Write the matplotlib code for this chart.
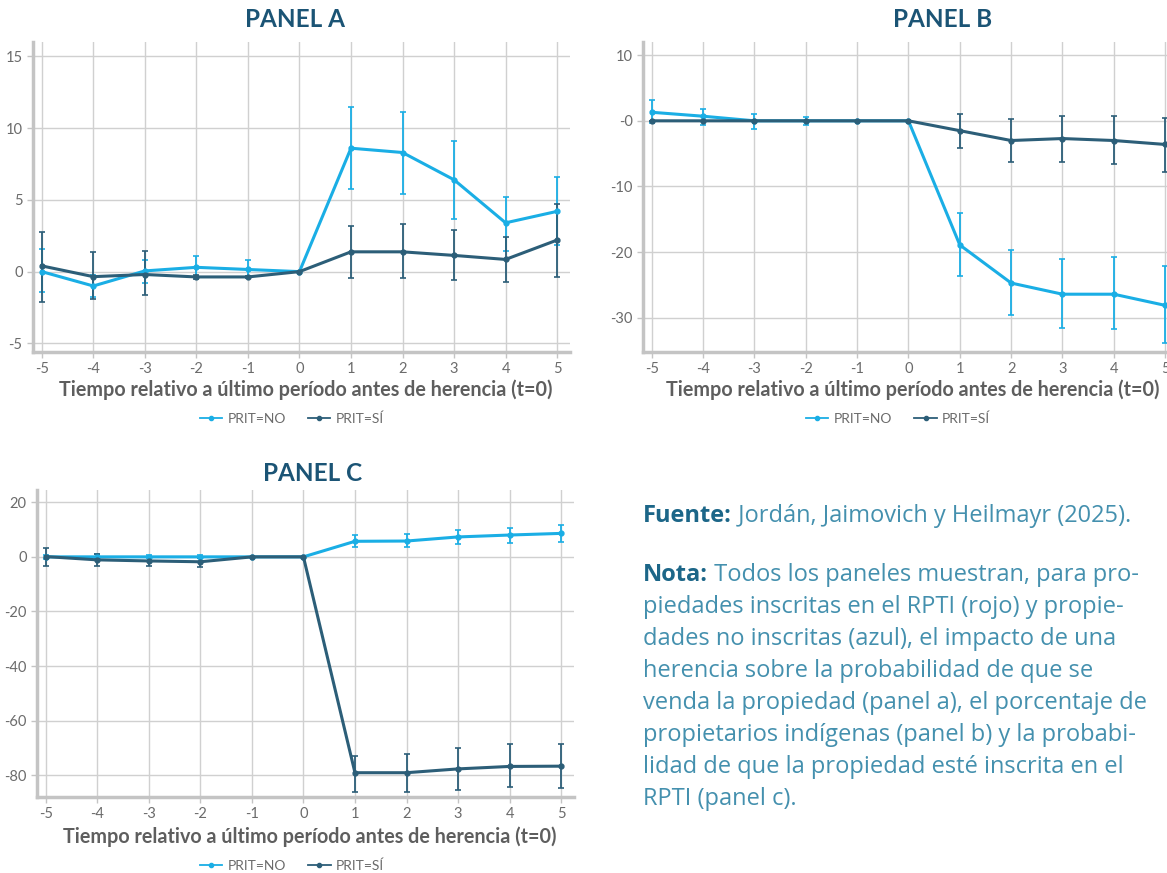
import matplotlib
matplotlib.use('Agg')
import matplotlib.pyplot as plt
from matplotlib.lines import Line2D

periods = [-5, -4, -3, -2, -1, 0, 1, 2, 3, 4, 5]

# Panel A: probabilidad de venta
a_no = [0.0, -1.0, 0.05, 0.3, 0.15, 0.0, 8.6, 8.3, 6.4, 3.4, 4.2]
a_no_lo = [-1.4, -1.8, -0.8, -0.4, -0.4, 0.0, 5.75, 5.4, 3.7, 1.45, 1.85]
a_no_hi = [1.6, -0.2, 0.8, 1.1, 0.8, 0.0, 11.45, 11.15, 9.1, 5.2, 6.6]
a_si = [0.4, -0.35, -0.2, -0.37, -0.37, 0.0, 1.38, 1.38, 1.13, 0.85, 2.2]
a_si_lo = [-2.1, -1.9, -1.65, -0.5, -0.45, 0.0, -0.45, -0.45, -0.55, -0.7, -0.35]
a_si_hi = [2.75, 1.35, 1.45, -0.25, -0.3, 0.0, 3.2, 3.3, 2.9, 2.4, 4.7]

# Panel B: porcentaje de propietarios indígenas
b_no = [1.3, 0.7, 0.0, 0.0, 0.0, 0.0, -18.9, -24.7, -26.4, -26.4, -28.1]
b_no_lo = [-0.4, -0.65, -1.2, -0.7, 0.0, 0.0, -23.6, -29.6, -31.5, -31.7, -33.8]
b_no_hi = [3.2, 1.75, 1.0, 0.55, 0.0, 0.0, -14.0, -19.6, -21.0, -20.8, -22.1]
b_si = [0.0, 0.0, 0.0, 0.0, 0.0, 0.0, -1.5, -3.0, -2.7, -3.0, -3.6]
b_si_lo = [0.0, 0.0, 0.0, 0.0, 0.0, 0.0, -4.2, -6.2, -6.3, -6.5, -7.8]
b_si_hi = [0.0, 0.0, 0.0, 0.0, 0.0, 0.0, 1.05, 0.2, 0.7, 0.7, 0.5]

# Panel C: probabilidad de estar inscrita en el RPTI
c_no = [0.0, 0.0, 0.0, 0.0, 0.0, 0.0, 5.7, 5.8, 7.3, 8.0, 8.6]
c_no_lo = [-0.8, -0.8, -0.6, -0.6, 0.0, 0.0, 3.6, 3.6, 4.8, 5.2, 5.6]
c_no_hi = [0.8, 1.2, 0.6, 0.6, 0.0, 0.0, 7.9, 8.2, 9.9, 10.7, 11.5]
c_si = [0.1, -1.1, -1.5, -1.8, 0.0, 0.0, -79.1, -79.1, -77.7, -76.8, -76.7]
c_si_lo = [-3.2, -3.5, -3.3, -3.6, 0.0, 0.0, -86.3, -86.3, -85.5, -84.4, -84.6]
c_si_hi = [3.2, 1.2, 0.1, -0.5, 0.0, 0.0, -72.8, -72.2, -70.0, -68.7, -68.7]

x_ticklabels = ['-5', '-4', '-3', '-2', '-1', '0', '1', '2', '3', '4', '5']
a_yticks = [-5, 0, 5, 10, 15]
a_yticklabels = ['-5', '0', '5', '10', '15']
b_yticks = [-30, -20, -10, 0, 10]
b_yticklabels = ['-30', '-20', '-10', '-0', '10']
c_yticks = [-80, -60, -40, -20, 0, 20]
c_yticklabels = ['-80', '-60', '-40', '-20', '0', '20']

LIGHT = '#1AAEE5'
DARK = '#2C5E78'
GRID = '#d0d0d0'
SPINE = '#c4c4c4'
TICK = '#6b6b6b'
TITLE = '#1B5475'

FONT = ['Lato', 'DejaVu Sans']
plt.rcParams['font.family'] = FONT

fig = plt.figure(figsize=(11.67, 8.73), dpi=100)
W, H = 1167.0, 873.0


def make_ax(left, top, right, bottom):
    return fig.add_axes([left / W, 1 - bottom / H, (right - left) / W, (bottom - top) / H])


def errs(vals, lo, hi):
    return [[v - l for v, l in zip(vals, lo)], [h - v for v, h in zip(vals, hi)]]


def draw_panel(ax, series, ylim, yticks, yticklabels, title, title_x, title_y,
               xlab_x, xlab_y, leg_x, leg_y):
    for vals, lo, hi, col in series:
        ax.errorbar(periods, vals, yerr=errs(vals, lo, hi), color=col, lw=2.2,
                    marker='o', ms=3.5, elinewidth=1.3, capsize=2.5, capthick=1.2,
                    zorder=3)
    ax.set_xlim(-5.17, 5.25)
    ax.set_ylim(*ylim)
    ax.set_xticks(periods)
    ax.set_xticklabels(x_ticklabels)
    ax.set_yticks(yticks)
    ax.set_yticklabels(yticklabels)
    ax.grid(True, color=GRID, lw=1)
    ax.set_axisbelow(True)
    for s in ['top', 'right']:
        ax.spines[s].set_visible(False)
    for s in ['left', 'bottom']:
        ax.spines[s].set_color(SPINE)
        ax.spines[s].set_linewidth(2.5)
    ax.tick_params(colors=SPINE, labelcolor=TICK, labelsize=10.5, length=4, width=1)
    ax.text(title_x, title_y, title, transform=ax.transAxes, ha='center', va='center',
            fontsize=17.5, fontweight='bold', color=TITLE)
    ax.text(xlab_x, xlab_y, 'Tiempo relativo a último período antes de herencia (t=0)',
            transform=ax.transAxes, ha='center', va='center', fontsize=14.2,
            fontweight='bold', color='#5e5e5e')
    handles = [Line2D([], [], color=LIGHT, lw=1.3, marker='o', ms=3),
               Line2D([], [], color=DARK, lw=1.3, marker='o', ms=3)]
    ax.legend(handles, ['PRIT=NO', 'PRIT=SÍ'], loc='center', bbox_to_anchor=(leg_x, leg_y),
              ncol=2, frameon=False, fontsize=10, labelcolor='#6b6b6b',
              handlelength=1.6, handletextpad=0.4, columnspacing=1.6)


ax_a = make_ax(33, 42, 570, 352)
draw_panel(ax_a, [(a_no, a_no_lo, a_no_hi, LIGHT), (a_si, a_si_lo, a_si_hi, DARK)],
           (-5.6, 16.0), a_yticks, a_yticklabels, 'PANEL A', 0.488, 1.071,
           0.508, -0.123, 0.482, -0.216)

ax_b = make_ax(643, 42, 1178, 352)
draw_panel(ax_b, [(b_no, b_no_lo, b_no_hi, LIGHT), (b_si, b_si_lo, b_si_hi, DARK)],
           (-35.2, 12.0), b_yticks, b_yticklabels, 'PANEL B', 0.56, 1.071,
           0.505, -0.123, 0.477, -0.216)

ax_c = make_ax(37, 490, 574, 797)
draw_panel(ax_c, [(c_no, c_no_lo, c_no_hi, LIGHT), (c_si, c_si_lo, c_si_hi, DARK)],
           (-88.0, 24.5), c_yticks, c_yticklabels, 'PANEL C', 0.514, 1.055,
           0.508, -0.13, 0.475, -0.225)

# Source and note text
NOTE_BOLD = '#1C6688'
NOTE = '#4490AE'
NFONT = ['Open Sans', 'DejaVu Sans']
nsize = 17
x0 = 643 / W


def bold_lead(y_px, lead, rest):
    t = fig.text(x0, 1 - y_px / H, lead, fontsize=nsize, fontweight='bold',
                 color=NOTE_BOLD, family=NFONT, va='baseline', ha='left')
    fig.canvas.draw()
    bb = t.get_window_extent()
    fig.text(bb.x1 / fig.bbox.width, 1 - y_px / H, rest, fontsize=nsize, color=NOTE,
             family=NFONT, va='baseline', ha='left')


note_lines = ['Todos los paneles muestran, para pro-',
              'piedades inscritas en el RPTI (rojo) y propie-',
              'dades no inscritas (azul), el impacto de una',
              'herencia sobre la probabilidad de que se',
              'venda la propiedad (panel a), el porcentaje de',
              'propietarios indígenas (panel b) y la probabi-',
              'lidad de que la propiedad esté inscrita en el',
              'RPTI (panel c).']
bold_lead(522, 'Fuente:', ' Jordán, Jaimovich y Heilmayr (2025).')
y0 = 581
bold_lead(y0, 'Nota:', ' ' + note_lines[0])
for i, line in enumerate(note_lines[1:], start=1):
    fig.text(x0, 1 - (y0 + 32 * i) / H, line, fontsize=nsize, color=NOTE,
             family=NFONT, va='baseline', ha='left')

fig.savefig('out.png', dpi=100)
